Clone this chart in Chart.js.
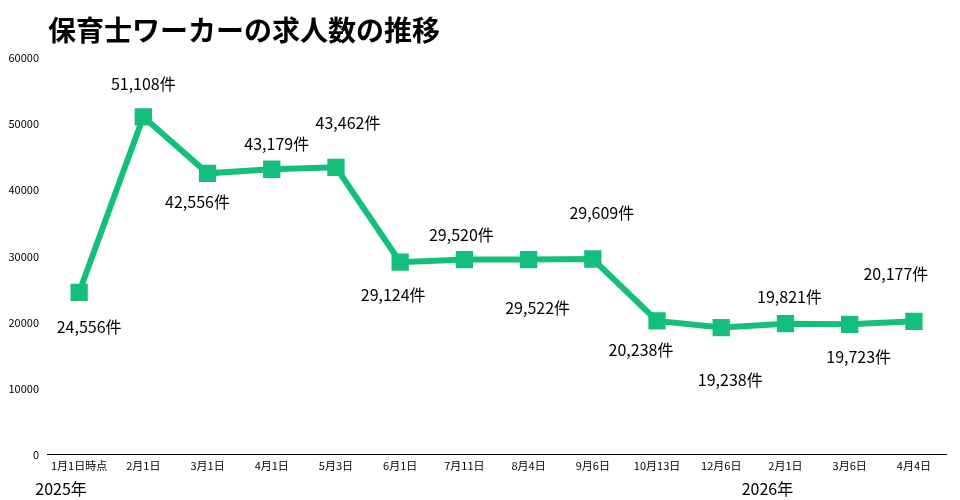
<!DOCTYPE html>
<html><head><meta charset="utf-8">
<script src="https://cdn.jsdelivr.net/npm/chart.js@4"></script>
<style>body{margin:0;background:#fff}#w{width:960px;height:500px}</style></head>
<body><div id="w"><canvas id="c"></canvas></div>
<script>
const categories=["1月1日時点","2月1日","3月1日","4月1日","5月3日","6月1日","7月11日","8月4日","9月6日","10月13日","12月6日","2月1日","3月6日","4月4日"];
const values=[24556,51108,42556,43179,43462,29124,29520,29522,29609,20238,19238,19821,19723,20177];
const yearLabels=[{index:0,text:"2025年"},{index:11,text:"2026年"}];
const title="保育士ワーカーの求人数の推移";
const F="'Noto Sans CJK JP','Noto Sans',sans-serif";
const deco={id:'deco',afterDatasetsDraw(ch){
 const ctx=ch.ctx,m=ch.getDatasetMeta(0),xs=ch.scales.x;
 const off=[[10,35],[0,-33],[-10,29],[5,-25],[12,-44],[-7,33],[-3,-25],[9,48],[9,-46],[-16,29],[9,52],[4,-27],[9,33],[-18,-47]];
 ctx.save();ctx.fillStyle='#000';ctx.textAlign='center';ctx.textBaseline='middle';
 ctx.font="16px "+F;
 m.data.forEach((p,i)=>{const t=values[i].toLocaleString('en-US')+'件';
  ctx.fillText(t,p.x+off[i][0],p.y+off[i][1]);});
 ctx.font="bold 28px "+F;ctx.textAlign='left';ctx.fillText(title,48,30);
 ctx.font="16px "+F;ctx.textAlign='center';
 yearLabels.forEach(y=>{ctx.fillText(y.text,xs.getPixelForValue(y.index)-18,489);});
 ctx.restore();}};
new Chart(document.getElementById('c'),{type:'line',
 data:{labels:categories,datasets:[{data:values,borderColor:'#14bf7c',backgroundColor:'#14bf7c',borderWidth:6,pointStyle:'rect',pointRadius:8,pointHoverRadius:8,tension:0}]},
 options:{responsive:true,maintainAspectRatio:false,animation:false,
  layout:{padding:{top:58,right:1,bottom:24,left:0}},
  plugins:{legend:{display:false},tooltip:{enabled:false}},
  scales:{
   x:{offset:true,grid:{display:false,drawTicks:false},border:{display:true,color:'#000'},ticks:{color:'#000',font:{size:11,family:F},maxRotation:0,autoSkip:false,padding:4}},
   y:{min:0,max:60000,afterFit(s){s.width=47;},grid:{display:false,drawTicks:false},border:{display:false},ticks:{stepSize:10000,color:'#000',font:{size:11,family:F},padding:8,callback:v=>String(v)}}}},
 plugins:[deco]});
</script></body></html>
